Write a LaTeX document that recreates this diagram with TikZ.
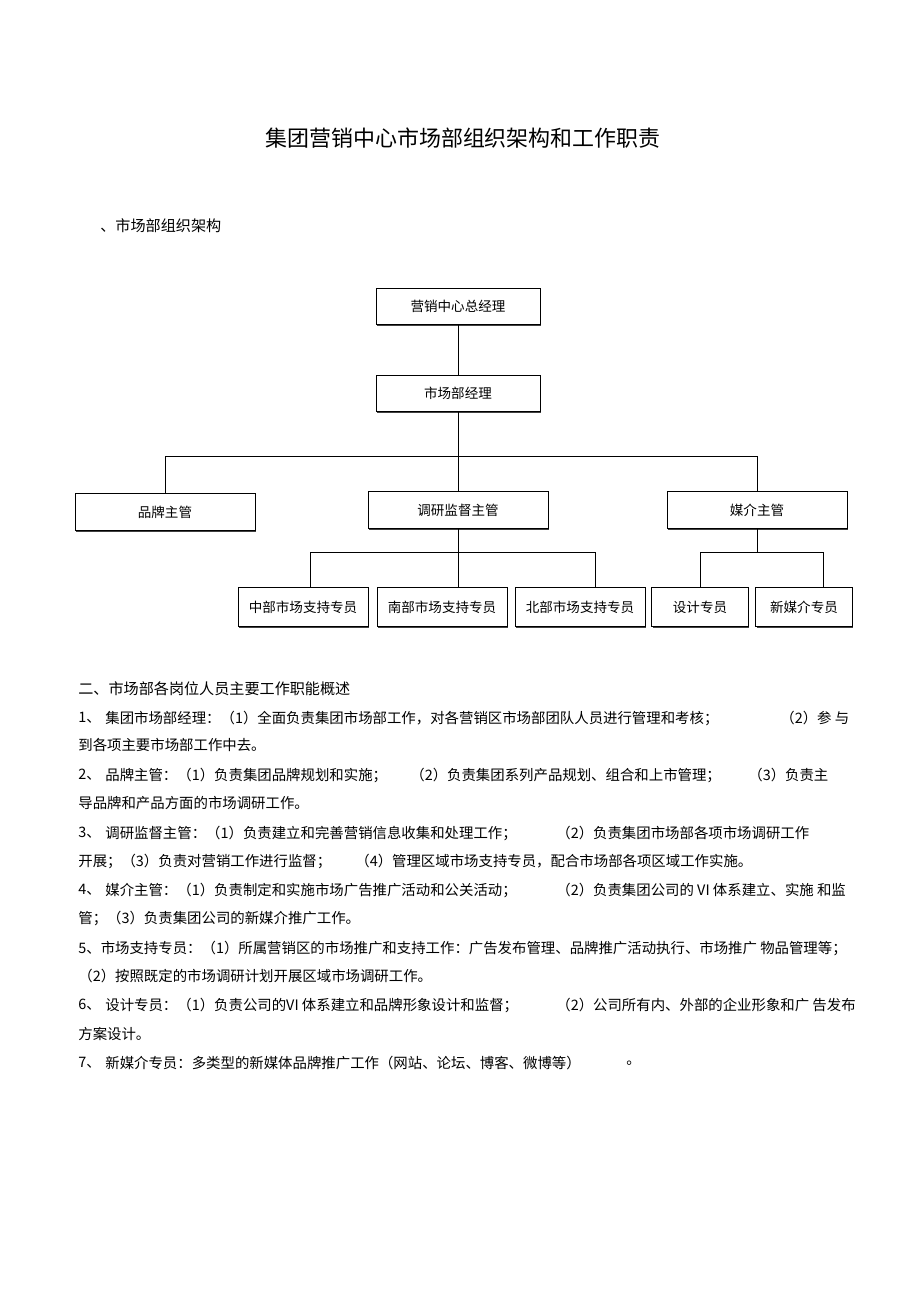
\documentclass[tikz,border=0pt]{standalone}
\usepackage{fontspec}
\newfontfamily\cjk{Noto Sans CJK SC}
\usetikzlibrary{shadows}

\begin{document}
\begin{tikzpicture}[
    x=0.02cm, y=-0.02cm,
    box/.style={rectangle, draw, fill=white, line width=0.5pt, inner sep=0pt,
        font=\cjk\fontsize{7.7}{9}\selectfont,
        drop shadow={shadow xshift=0.5pt, shadow yshift=-0.9pt, fill=black!75, opacity=1}},
    bigbox/.style={box, minimum width=3.28cm, minimum height=0.72cm},
    midbox/.style={box, minimum width=3.6cm, minimum height=0.74cm},
    smallbox/.style={box, minimum width=2.6cm, minimum height=0.78cm},
    tinybox/.style={box, minimum width=1.93cm, minimum height=0.78cm},
    txt/.style={anchor=west, inner sep=0pt, font=\cjk\fontsize{8.2}{10}\selectfont},
    head/.style={anchor=west, inner sep=0pt, font=\cjk\fontsize{8.6}{10}\selectfont},
    link/.style={line width=0.5pt}
]
\useasboundingbox (0,0) rectangle (920,1303);

% Title
\node[inner sep=0pt, font=\cjk\fontsize{12.5}{14}\selectfont] (title) at (463,138) {集团营销中心市场部组织架构和工作职责};
\node[head] (sec1) at (100,226) {、市场部组织架构};

% Org chart
\node[bigbox] (gm) at (458,306) {营销中心总经理};
\node[bigbox] (mm) at (458,393) {市场部经理};
\node[midbox] (pp) at (165,512) {品牌主管};
\node[midbox] (rs) at (458,510) {调研监督主管};
\node[midbox] (mj) at (757,510) {媒介主管};
\node[smallbox] (zb) at (303,607) {中部市场支持专员};
\node[smallbox] (nb) at (442,607) {南部市场支持专员};
\node[smallbox] (bb) at (580,607) {北部市场支持专员};
\node[tinybox] (sj) at (700,607) {设计专员};
\node[tinybox] (xm) at (804,607) {新媒介专员};

\coordinate (bus) at (458,456);
\coordinate (bus2) at (458,552);
\coordinate (bus3) at (757,552);

% Connectors
\draw[link] (gm) -- (mm);
\draw[link] (mm) -- (rs);
\draw[link] (pp.north) |- (bus) -| (mj.north);
\draw[link] (rs.south) -- (rs.south |- nb.north);
\draw[link] ([xshift=0.14cm]zb.north) |- (bus2) -| ([xshift=0.3cm]bb.north);
\draw[link] (mj) -- (bus3);
\draw[link] (sj.north) |- (bus3) -| ([xshift=0.38cm]xm.north);

% Duties
\node[head] (sec2) at (78,689) {二、市场部各岗位人员主要工作职能概述};

\node[txt] (n1) at (78,718) {1、};
\node[txt] (l1a) at (105,718) {集团市场部经理：（1）全面负责集团市场部工作，对各营销区市场部团队人员进行管理和考核；};
\node[txt] (l1b) at (780,718) {（2）参 与};
\node[txt] (l2) at (78,745) {到各项主要市场部工作中去。};

\node[txt] (n2) at (78,775) {2、};
\node[txt] (l3a) at (105,775) {品牌主管：（1）负责集团品牌规划和实施；};
\node[txt] (l3b) at (410,775) {（2）负责集团系列产品规划、组合和上市管理；};
\node[txt] (l3c) at (748,775) {（3）负责主};
\node[txt] (l4) at (78,803) {导品牌和产品方面的市场调研工作。};

\node[txt] (n3) at (78,833) {3、};
\node[txt] (l5a) at (105,833) {调研监督主管：（1）负责建立和完善营销信息收集和处理工作；};
\node[txt] (l5b) at (556,833) {（2）负责集团市场部各项市场调研工作};
\node[txt] (l6a) at (78,861) {开展；（3）负责对营销工作进行监督；};
\node[txt] (l6b) at (355,861) {（4）管理区域市场支持专员，配合市场部各项区域工作实施。};

\node[txt] (n4) at (78,890) {4、};
\node[txt] (l7a) at (105,890) {媒介主管：（1）负责制定和实施市场广告推广活动和公关活动；};
\node[txt] (l7b) at (556,890) {（2）负责集团公司的 VI 体系建立、实施 和监};
\node[txt] (l8) at (78,918) {管；（3）负责集团公司的新媒介推广工作。};

\node[txt] (l9) at (78,948) {5、市场支持专员：（1）所属营销区的市场推广和支持工作：广告发布管理、品牌推广活动执行、市场推广 物品管理等；};
\node[txt] (l10) at (78,976) {（2）按照既定的市场调研计划开展区域市场调研工作。};

\node[txt] (n6) at (78,1005) {6、};
\node[txt] (l11a) at (105,1005) {设计专员：（1）负责公司的VI 体系建立和品牌形象设计和监督；};
\node[txt] (l11b) at (556,1005) {（2）公司所有内、外部的企业形象和广 告发布};
\node[txt] (l12) at (78,1034) {方案设计。};

\node[txt] (n7) at (78,1063) {7、};
\node[txt] (l13a) at (105,1063) {新媒介专员：多类型的新媒体品牌推广工作（网站、论坛、博客、微博等）};
\node[txt] (l13b) at (626,1063) {。};

\end{tikzpicture}
\end{document}
